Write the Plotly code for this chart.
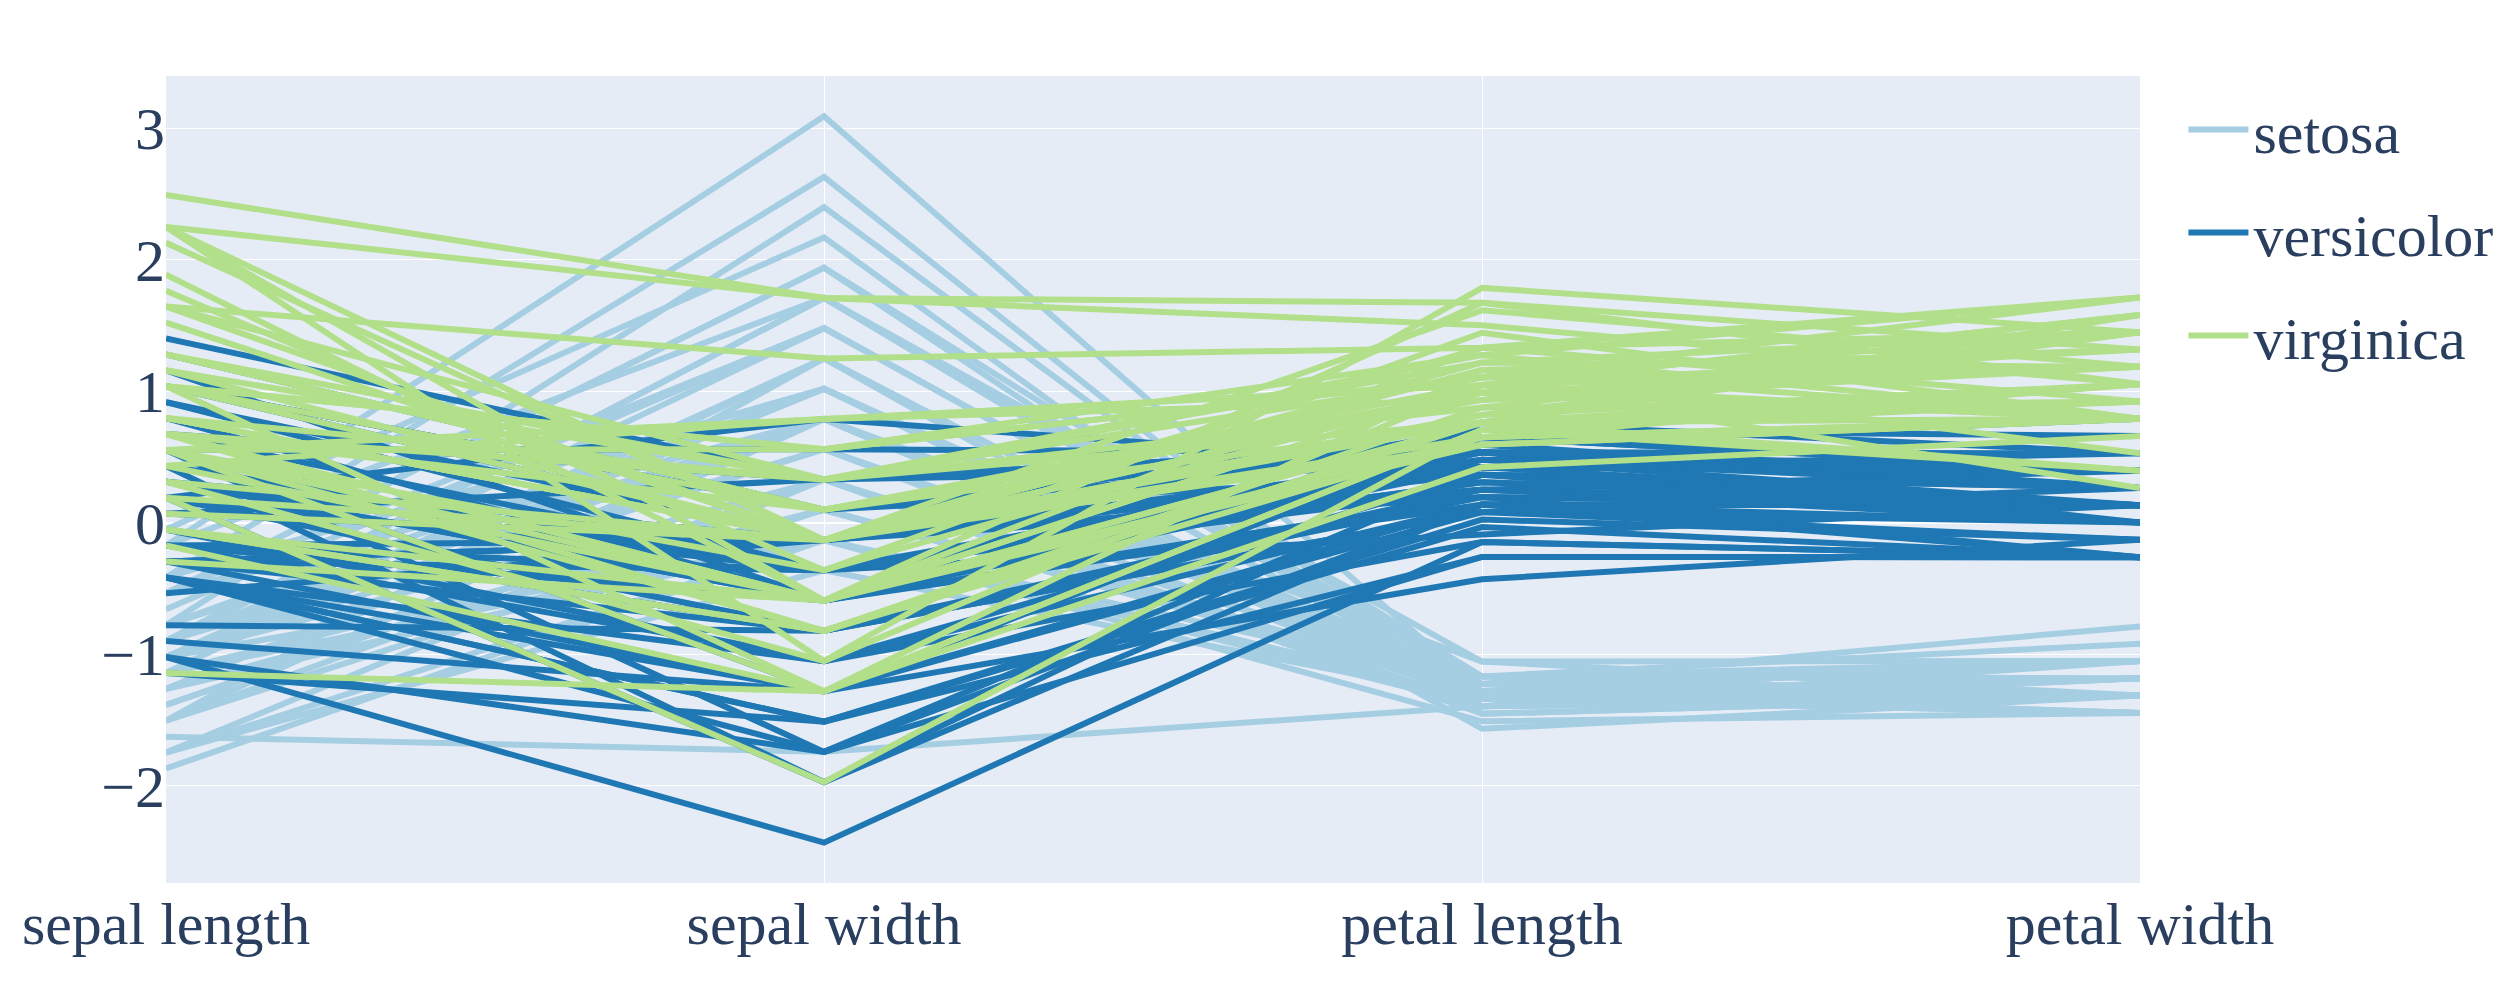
import numpy as np
import plotly.graph_objects as go

# Iris measurements (cm), 50 rows per species
species = ["setosa", "versicolor", "virginica"]
features = ["sepal length", "sepal width", "petal length", "petal width"]

sepal_length = [
    5.1, 4.9, 4.7, 4.6, 5.0, 5.4, 4.6, 5.0, 4.4, 4.9, 5.4, 4.8, 4.8, 4.3, 5.8, 5.7, 5.4, 5.1, 5.7, 5.1,
    5.4, 5.1, 4.6, 5.1, 4.8, 5.0, 5.0, 5.2, 5.2, 4.7, 4.8, 5.4, 5.2, 5.5, 4.9, 5.0, 5.5, 4.9, 4.4, 5.1,
    5.0, 4.5, 4.4, 5.0, 5.1, 4.8, 5.1, 4.6, 5.3, 5.0,
    7.0, 6.4, 6.9, 5.5, 6.5, 5.7, 6.3, 4.9, 6.6, 5.2, 5.0, 5.9, 6.0, 6.1, 5.6, 6.7, 5.6, 5.8, 6.2, 5.6,
    5.9, 6.1, 6.3, 6.1, 6.4, 6.6, 6.8, 6.7, 6.0, 5.7, 5.5, 5.5, 5.8, 6.0, 5.4, 6.0, 6.7, 6.3, 5.6, 5.5,
    5.5, 6.1, 5.8, 5.0, 5.6, 5.7, 5.7, 6.2, 5.1, 5.7,
    6.3, 5.8, 7.1, 6.3, 6.5, 7.6, 4.9, 7.3, 6.7, 7.2, 6.5, 6.4, 6.8, 5.7, 5.8, 6.4, 6.5, 7.7, 7.7, 6.0,
    6.9, 5.6, 7.7, 6.3, 6.7, 7.2, 6.2, 6.1, 6.4, 7.2, 7.4, 7.9, 6.4, 6.3, 6.1, 7.7, 6.3, 6.4, 6.0, 6.9,
    6.7, 6.9, 5.8, 6.8, 6.7, 6.7, 6.3, 6.5, 6.2, 5.9,
]
sepal_width = [
    3.5, 3.0, 3.2, 3.1, 3.6, 3.9, 3.4, 3.4, 2.9, 3.1, 3.7, 3.4, 3.0, 3.0, 4.0, 4.4, 3.9, 3.5, 3.8, 3.8,
    3.4, 3.7, 3.6, 3.3, 3.4, 3.0, 3.4, 3.5, 3.4, 3.2, 3.1, 3.4, 4.1, 4.2, 3.1, 3.2, 3.5, 3.6, 3.0, 3.4,
    3.5, 2.3, 3.2, 3.5, 3.8, 3.0, 3.8, 3.2, 3.7, 3.3,
    3.2, 3.2, 3.1, 2.3, 2.8, 2.8, 3.3, 2.4, 2.9, 2.7, 2.0, 3.0, 2.2, 2.9, 2.9, 3.1, 3.0, 2.7, 2.2, 2.5,
    3.2, 2.8, 2.5, 2.8, 2.9, 3.0, 2.8, 3.0, 2.9, 2.6, 2.4, 2.4, 2.7, 2.7, 3.0, 3.4, 3.1, 2.3, 3.0, 2.5,
    2.6, 3.0, 2.6, 2.3, 2.7, 3.0, 2.9, 2.9, 2.5, 2.8,
    3.3, 2.7, 3.0, 2.9, 3.0, 3.0, 2.5, 2.9, 2.5, 3.6, 3.2, 2.7, 3.0, 2.5, 2.8, 3.2, 3.0, 3.8, 2.6, 2.2,
    3.2, 2.8, 2.8, 2.7, 3.3, 3.2, 2.8, 3.0, 2.8, 3.0, 2.8, 3.8, 2.8, 2.8, 2.6, 3.0, 3.4, 3.1, 3.0, 3.1,
    3.1, 3.1, 2.7, 3.2, 3.3, 3.0, 2.5, 3.0, 3.4, 3.0,
]
petal_length = [
    1.4, 1.4, 1.3, 1.5, 1.4, 1.7, 1.4, 1.5, 1.4, 1.5, 1.5, 1.6, 1.4, 1.1, 1.2, 1.5, 1.3, 1.4, 1.7, 1.5,
    1.7, 1.5, 1.0, 1.7, 1.9, 1.6, 1.6, 1.5, 1.4, 1.6, 1.6, 1.5, 1.5, 1.4, 1.5, 1.2, 1.3, 1.4, 1.3, 1.5,
    1.3, 1.3, 1.3, 1.6, 1.9, 1.4, 1.6, 1.4, 1.5, 1.4,
    4.7, 4.5, 4.9, 4.0, 4.6, 4.5, 4.7, 3.3, 4.6, 3.9, 3.5, 4.2, 4.0, 4.7, 3.6, 4.4, 4.5, 4.1, 4.5, 3.9,
    4.8, 4.0, 4.9, 4.7, 4.3, 4.4, 4.8, 5.0, 4.5, 3.5, 3.8, 3.7, 3.9, 5.1, 4.5, 4.5, 4.7, 4.4, 4.1, 4.0,
    4.4, 4.6, 4.0, 3.3, 4.2, 4.2, 4.2, 4.3, 3.0, 4.1,
    6.0, 5.1, 5.9, 5.6, 5.8, 6.6, 4.5, 6.3, 5.8, 6.1, 5.1, 5.3, 5.5, 5.0, 5.1, 5.3, 5.5, 6.7, 6.9, 5.0,
    5.7, 4.9, 6.7, 4.9, 5.7, 6.0, 4.8, 4.9, 5.6, 5.8, 6.1, 6.4, 5.6, 5.1, 5.6, 6.1, 5.6, 5.5, 4.8, 5.4,
    5.6, 5.1, 5.1, 5.9, 5.7, 5.2, 5.0, 5.2, 5.4, 5.1,
]
petal_width = [
    0.2, 0.2, 0.2, 0.2, 0.2, 0.4, 0.3, 0.2, 0.2, 0.1, 0.2, 0.2, 0.1, 0.1, 0.2, 0.4, 0.4, 0.3, 0.3, 0.3,
    0.2, 0.4, 0.2, 0.5, 0.2, 0.2, 0.4, 0.2, 0.2, 0.2, 0.2, 0.4, 0.1, 0.2, 0.2, 0.2, 0.2, 0.1, 0.2, 0.2,
    0.3, 0.3, 0.2, 0.6, 0.4, 0.3, 0.2, 0.2, 0.2, 0.2,
    1.4, 1.5, 1.5, 1.3, 1.5, 1.3, 1.6, 1.0, 1.3, 1.4, 1.0, 1.5, 1.0, 1.4, 1.3, 1.4, 1.5, 1.0, 1.5, 1.1,
    1.8, 1.3, 1.5, 1.2, 1.3, 1.4, 1.4, 1.7, 1.5, 1.0, 1.1, 1.0, 1.2, 1.6, 1.5, 1.6, 1.5, 1.3, 1.3, 1.3,
    1.2, 1.4, 1.2, 1.0, 1.3, 1.2, 1.3, 1.3, 1.1, 1.3,
    2.5, 1.9, 2.1, 1.8, 2.2, 2.1, 1.7, 1.8, 1.8, 2.5, 2.0, 1.9, 2.1, 2.0, 2.4, 2.3, 1.8, 2.2, 2.3, 1.5,
    2.3, 2.0, 2.0, 1.8, 2.1, 1.8, 1.8, 1.8, 2.1, 1.6, 1.9, 2.0, 2.2, 1.5, 1.4, 2.3, 2.4, 1.8, 1.8, 2.1,
    2.4, 2.3, 1.9, 2.3, 2.5, 2.3, 1.9, 2.0, 2.3, 1.8,
]
target = [0] * 50 + [1] * 50 + [2] * 50

colors = ["#a6cee3", "#1f78b4", "#b2df8a"]

# standardize each column (z-score)
X = np.array([sepal_length, sepal_width, petal_length, petal_width]).T
Z = (X - X.mean(axis=0)) / X.std(axis=0)
target = np.array(target)

fig = go.Figure()

for k, name in enumerate(species):
    xs, ys = [], []
    for row in Z[target == k]:
        xs += features + [None]
        ys += list(row) + [None]
    fig.add_trace(go.Scatter(
        x=xs, y=ys, name=name, mode="lines",
        legendgroup=name,
        line=dict(color=colors[k], width=6),
        connectgaps=False,
    ))

font_size = 60

# page body adds an 8px offset, so the figure is a bit smaller than the window
fig.update_layout(
    width=2508,
    height=984,
    template="plotly",
    font=dict(family="Liberation Serif, Times New Roman, serif", size=font_size, color="#2a3f5f"),
    margin=dict(l=158, r=376, t=68, b=109),
    legend=dict(font=dict(size=font_size), itemwidth=60, tracegroupgap=22,
                x=1.022, y=0.99, yanchor="top"),
    xaxis=dict(type="category", automargin=False),
    yaxis=dict(automargin=False),
)

fig.write_html("out.html")
